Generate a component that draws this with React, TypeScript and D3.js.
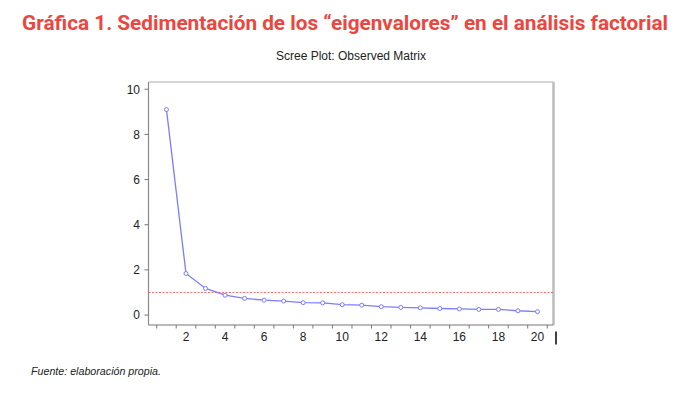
import React from "react";
import * as d3 from "d3";

const titleText = "Gráfica 1. Sedimentación de los “eigenvalores” en el análisis factorial";
const subtitleText = "Scree Plot: Observed Matrix";
const sourceText = "Fuente: elaboración propia.";

const factors = d3.range(1, 21);
const eigenvalues = [9.1, 1.84, 1.18, 0.88, 0.74, 0.66, 0.62, 0.55, 0.54, 0.46, 0.44, 0.37, 0.34, 0.32, 0.29, 0.27, 0.25, 0.25, 0.19, 0.15];
const referenceLevel = 1;
const yTicks = [0, 2, 4, 6, 8, 10];
const xLabelTicks = [2, 4, 6, 8, 10, 12, 14, 16, 18, 20];
const xMinorTicks = d3.range(0.5, 21, 1);

export default function App() {
  const W = 691, H = 397;
  const left = 148.5, right = 553.5, top = 82, bottom = 325;
  const x = d3.scaleLinear().domain([0.08, 20.82]).range([left, right]);
  const y = d3.scaleLinear().domain([-0.44, 10.32]).range([bottom, top]);
  const line = d3.line<number>().x((_, i) => x(factors[i])).y((d) => y(d));

  return (
    <svg width={W} height={H} style={{ position: "absolute", left: 0, top: 0, background: "#fff" }}>
      <text x={22} y={30} fill="#ec4640" fontFamily="Roboto, 'Liberation Sans', sans-serif" fontWeight="bold" fontSize={20.5} textLength={646} lengthAdjust="spacingAndGlyphs">
        {titleText}
      </text>
      <text x={351} y={60} textAnchor="middle" fill="#222" fontFamily="'Liberation Sans', Arial, sans-serif" fontSize={12}>
        {subtitleText}
      </text>

      {/* frame */}
      <line x1={left} x2={right} y1={top} y2={top} stroke="#c8c8c8" strokeWidth={1.5} />
      <line x1={right} x2={right} y1={top} y2={bottom} stroke="#bdbdbd" strokeWidth={2.5} />
      <line x1={left} x2={left} y1={top} y2={bottom} stroke="#8a8a8a" strokeWidth={1.2} />
      <line x1={left} x2={right} y1={bottom} y2={bottom} stroke="#777" strokeWidth={1.2} />

      {/* y ticks */}
      {yTicks.map((t) => (
        <g key={"y" + t}>
          <line x1={left - 4} x2={left} y1={y(t)} y2={y(t)} stroke="#777" strokeWidth={1} />
          <text x={140} y={y(t) + 4.3} textAnchor="end" fontFamily="'Liberation Sans', Arial, sans-serif" fontSize={12} fill="#222">
            {t}
          </text>
        </g>
      ))}

      {/* x ticks */}
      {xMinorTicks.map((t) => (
        <line key={"xm" + t} x1={x(t)} x2={x(t)} y1={bottom} y2={bottom + 3.5} stroke="#777" strokeWidth={1} />
      ))}
      {xLabelTicks.map((t) => (
        <text key={"xl" + t} x={x(t)} y={341} textAnchor="middle" fontFamily="'Liberation Sans', Arial, sans-serif" fontSize={12} fill="#222">
          {t}
        </text>
      ))}
      <line x1={556} x2={556} y1={331.5} y2={344.5} stroke="#111" strokeWidth={1.6} />

      {/* reference line */}
      <line x1={left} x2={right} y1={y(referenceLevel)} y2={y(referenceLevel)} stroke="#ff6a6a" strokeWidth={1} strokeDasharray="2,1.5" />

      {/* scree line */}
      <path d={line(eigenvalues) || ""} fill="none" stroke="#7c7cff" strokeWidth={1.3} />
      {eigenvalues.map((v, i) => (
        <circle key={"p" + i} cx={x(factors[i])} cy={y(v)} r={2} fill="#fff" stroke="#7c7cff" strokeWidth={1} />
      ))}

      <text x={31} y={375} fontFamily="'Liberation Sans Narrow', 'Liberation Sans', sans-serif" fontStyle="italic" fontSize={10.5} fill="#222" textLength={130} lengthAdjust="spacingAndGlyphs">
        {sourceText}
      </text>
    </svg>
  );
}
